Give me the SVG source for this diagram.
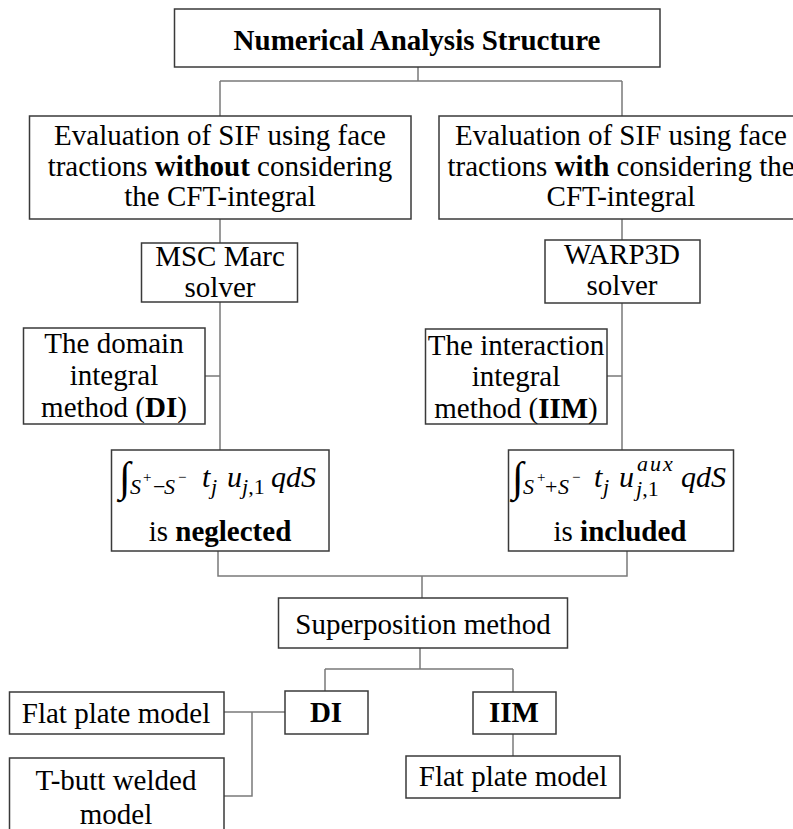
<svg xmlns="http://www.w3.org/2000/svg" width="793" height="829" viewBox="0 0 793 829">
<style>
.box{fill:#fff;stroke:#3a3a3a;stroke-width:1.5}
.con{fill:none;stroke:#7a7a7a;stroke-width:1.5}
.t{font-family:"Liberation Serif","Times New Roman",serif;font-size:29px;fill:#000;text-anchor:middle}
.b{font-weight:bold}
.m{font-family:"Liberation Serif","Times New Roman",serif;font-style:italic;font-size:30px;fill:#000}
.n{font-style:normal}
.s{font-size:22px}
.ss{font-size:15px}
.ig{font-size:42px;font-style:normal}
</style>
<rect width="793" height="829" fill="#fff"/>
<g id="connectors">
<path class="con" d="M418 67V81M220 81H622M220 81V116M622 81V116"/>
<path class="con" d="M220 219V243M220 302V450M205 376H220"/>
<path class="con" d="M622 219V240M622 303V450M607 376H622"/>
<path class="con" d="M218 551V576H627V551M422 576V598"/>
<path class="con" d="M420 648V669M325 669H513M325 669V691M513 669V692"/>
<path class="con" d="M513 734V756"/>
<path class="con" d="M224 712H285M252 712V796H224"/>
</g>
<g id="title"><rect class="box" x="174.5" y="9" width="485.5" height="58"/><text class="t b" x="417" y="50" font-size="34">Numerical Analysis Structure</text></g>
<g id="eval-without"><rect class="box" x="29.5" y="116" width="381.5" height="103"/>
<text class="t" x="220" y="145">Evaluation of SIF using face</text>
<text class="t" x="220" y="176">tractions <tspan class="b">without</tspan> considering</text>
<text class="t" x="220" y="206">the CFT-integral</text></g>
<g id="eval-with"><rect class="box" x="439" y="116" width="360" height="103"/>
<text class="t" x="621" y="145">Evaluation of SIF using face</text>
<text class="t" x="621" y="176">tractions <tspan class="b">with</tspan> considering the</text>
<text class="t" x="621" y="206">CFT-integral</text></g>
<g id="msc"><rect class="box" x="141.5" y="243" width="156" height="59"/>
<text class="t" x="220" y="266">MSC Marc</text><text class="t" x="220" y="297">solver</text></g>
<g id="warp"><rect class="box" x="545" y="240" width="155" height="63"/>
<text class="t" x="622" y="264">WARP3D</text><text class="t" x="622" y="295">solver</text></g>
<g id="di-method"><rect class="box" x="23.5" y="328" width="181.5" height="96"/>
<text class="t" x="114" y="353">The domain</text><text class="t" x="114" y="385">integral</text><text class="t" x="114" y="417">method (<tspan class="b">DI</tspan>)</text></g>
<g id="iim-method"><rect class="box" x="425.5" y="329" width="181.5" height="95"/>
<text class="t" x="516" y="355">The interaction</text><text class="t" x="516" y="386">integral</text><text class="t" x="516" y="418">method (<tspan class="b">IIM</tspan>)</text></g>
<g id="neglected"><rect class="box" x="111.5" y="450" width="217.5" height="101"/>
<text class="m ig" x="119" y="491">∫</text>
<text class="m s" x="130" y="494">S</text><text class="m ss n" x="143" y="482">+</text>
<text class="m s n" x="153" y="494">−</text><text class="m s" x="164" y="494">S</text><text class="m ss n" x="178" y="482">−</text>
<text class="m" x="202" y="487">t</text><text class="m s" x="211" y="494">j</text>
<text class="m" x="227" y="487">u</text><text class="m s" x="242" y="494">j<tspan class="n">,1</tspan></text>
<text class="m" x="271" y="487">qdS</text>
<text class="t" x="220" y="541">is <tspan class="b">neglected</tspan></text></g>
<g id="included"><rect class="box" x="508.5" y="450" width="225" height="101"/>
<text class="m ig" x="512" y="491">∫</text>
<text class="m s" x="523" y="494">S</text><text class="m ss n" x="537" y="482">+</text>
<text class="m s n" x="545" y="494">+</text><text class="m s" x="558" y="494">S</text><text class="m ss n" x="572" y="482">−</text>
<text class="m" x="594" y="487">t</text><text class="m s" x="603" y="494">j</text>
<text class="m" x="619" y="487">u</text><text class="m s" x="636" y="496">j<tspan class="n">,1</tspan></text>
<text class="m s" x="637" y="471" letter-spacing="2">aux</text>
<text class="m" x="681" y="487">qdS</text>
<text class="t" x="620" y="541">is <tspan class="b">included</tspan></text></g>
<g id="superposition"><rect class="box" x="278.5" y="598" width="289" height="50"/><text class="t" x="423" y="634">Superposition method</text></g>
<g id="di"><rect class="box" x="285" y="691" width="83" height="43"/><text class="t b" x="326" y="722">DI</text></g>
<g id="iim"><rect class="box" x="473" y="692" width="83" height="42"/><text class="t b" x="514" y="722">IIM</text></g>
<g id="flat-left"><rect class="box" x="9.5" y="692" width="214.5" height="42"/><text class="t" x="116" y="723">Flat plate model</text></g>
<g id="tbutt"><rect class="box" x="9.5" y="758" width="214.5" height="80"/><text class="t" x="116" y="790">T-butt welded</text><text class="t" x="116" y="824">model</text></g>
<g id="flat-right"><rect class="box" x="406" y="756" width="214" height="42"/><text class="t" x="513" y="786">Flat plate model</text></g>
</svg>
